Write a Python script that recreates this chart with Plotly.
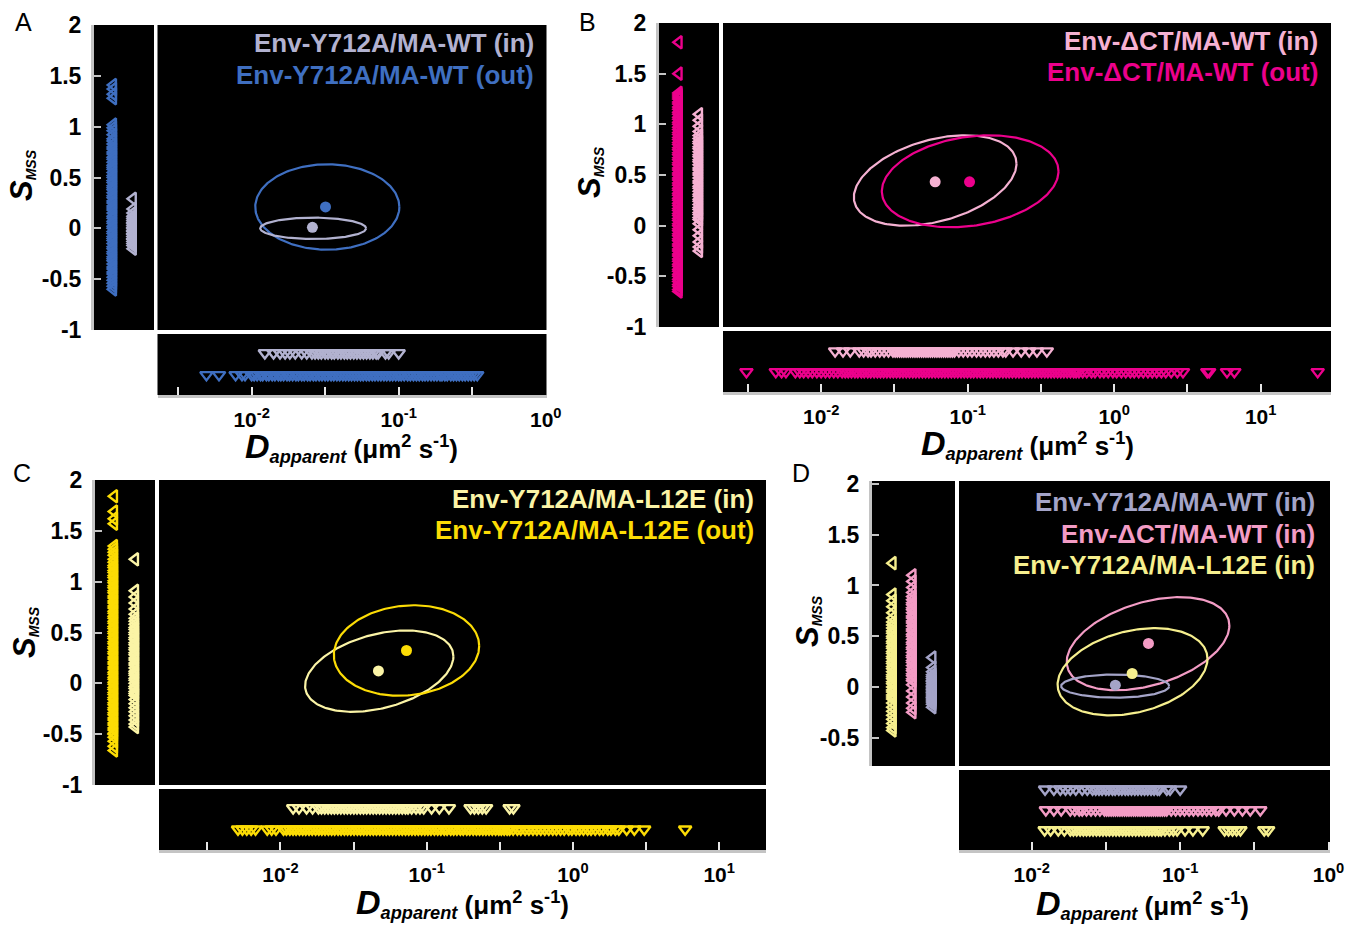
import numpy as np
import plotly.graph_objects as go

# ---------------- data ----------------
# S_MSS values (left marginal strips)
A_OUT_S = [1.41, 1.37, 1.32, 1.28, 1.02, 0.99, 0.96, 0.92,
           0.88, 0.86, 0.83, 0.80, 0.78, 0.75, 0.73, 0.70, 0.68, 0.65, 0.62, 0.60, 0.58, 0.55,
           0.52, 0.50, 0.47, 0.45, 0.42, 0.40, 0.38, 0.35, 0.32, 0.30, 0.27, 0.25, 0.22, 0.20,
           0.18, 0.15, 0.12, 0.10, 0.07, 0.05, 0.02, 0.00, -0.03, -0.05, -0.08, -0.10, -0.12,
           -0.15, -0.18, -0.20, -0.23, -0.25, -0.28, -0.30, -0.32, -0.35, -0.38, -0.40, -0.43,
           -0.45, -0.48, -0.51, -0.54, -0.57, -0.60]
A_IN_S = [0.29, 0.19, 0.15, 0.12, 0.10, 0.08, 0.06, 0.05, 0.03, 0.01, 0.00, -0.02, -0.03,
          -0.05, -0.06, -0.08, -0.10, -0.11, -0.13, -0.15, -0.17, -0.20]
B_OUT_S = [1.81, 1.50, 1.31, 1.29, 1.27, 1.25, 1.22, 1.20, 1.17, 1.15, 1.12, 1.10, 1.07, 1.05,
           1.02, 1.00, 0.97, 0.95, 0.92, 0.90, 0.87, 0.85, 0.82, 0.80, 0.77, 0.75, 0.72, 0.70,
           0.67, 0.65, 0.62, 0.60, 0.57, 0.55, 0.52, 0.50, 0.47, 0.45, 0.42, 0.40, 0.37, 0.35,
           0.32, 0.30, 0.27, 0.25, 0.22, 0.20, 0.17, 0.15, 0.12, 0.10, 0.07, 0.05, 0.02, 0.00,
           -0.03, -0.05, -0.08, -0.10, -0.13, -0.15, -0.18, -0.20, -0.23, -0.25, -0.28, -0.30,
           -0.33, -0.35, -0.38, -0.40, -0.43, -0.45, -0.48, -0.50, -0.53, -0.55, -0.58, -0.60,
           -0.63, -0.65]
B_IN_S = [1.10, 1.04, 0.98, 0.93, 0.89, 0.86, 0.83, 0.81, 0.78, 0.76, 0.73, 0.70, 0.68, 0.65,
          0.63, 0.60, 0.57, 0.55, 0.52, 0.50, 0.47, 0.44, 0.42, 0.39, 0.37, 0.34, 0.31, 0.29,
          0.26, 0.24, 0.21, 0.18, 0.16, 0.13, 0.11, 0.08, 0.06, 0.02, -0.04, -0.10, -0.16,
          -0.21, -0.25]
C_OUT_S = [1.84, 1.69, 1.62, 1.57, 1.35, 1.32, 1.29, 1.26, 1.22, 1.19, 1.16, 1.14, 1.11, 1.09,
           1.06, 1.04, 1.01, 0.99, 0.96, 0.94, 0.91, 0.89, 0.86, 0.84, 0.81, 0.79, 0.76, 0.74,
           0.71, 0.69, 0.66, 0.64, 0.61, 0.59, 0.56, 0.54, 0.51, 0.49, 0.46, 0.44, 0.41, 0.39,
           0.36, 0.34, 0.31, 0.29, 0.26, 0.24, 0.21, 0.19, 0.16, 0.14, 0.11, 0.09, 0.06, 0.04,
           0.01, -0.01, -0.04, -0.06, -0.09, -0.11, -0.14, -0.16, -0.19, -0.21, -0.24, -0.26,
           -0.29, -0.31, -0.34, -0.36, -0.39, -0.41, -0.44, -0.46, -0.49, -0.50, -0.53, -0.57,
           -0.62, -0.66]
C_IN_S = [1.22, 0.91, 0.85, 0.79, 0.73, 0.68, 0.64, 0.61, 0.58, 0.55, 0.53, 0.50, 0.48, 0.45,
          0.43, 0.40, 0.38, 0.35, 0.33, 0.30, 0.28, 0.25, 0.23, 0.20, 0.18, 0.15, 0.12, 0.10,
          0.08, 0.05, 0.03, 0.00, -0.03, -0.05, -0.08, -0.10, -0.12, -0.16, -0.20, -0.24,
          -0.28, -0.32, -0.36, -0.40, -0.43]

# D_apparent values, um^2/s (bottom marginal strips)
A_OUT_D = [0.00493, 0.00600, 0.00778, 0.00860, 0.00902,
           0.0100, 0.0104, 0.0109, 0.0115, 0.0119, 0.0126, 0.0131, 0.0138, 0.0144, 0.0152,
           0.0158, 0.0165, 0.0174, 0.0181, 0.0190, 0.0200, 0.0208, 0.0219, 0.0228, 0.0240,
           0.0250, 0.0263, 0.0274, 0.0288, 0.0301, 0.0316, 0.0330, 0.0347, 0.0362, 0.0380,
           0.0397, 0.0417, 0.0436, 0.0457, 0.0478, 0.0501, 0.0524, 0.0550, 0.0574, 0.0603,
           0.0630, 0.0661, 0.0690, 0.0724, 0.0757, 0.0794, 0.0830, 0.0871, 0.0910, 0.0955,
           0.100, 0.104, 0.109, 0.115, 0.120, 0.126, 0.132, 0.138, 0.145, 0.151, 0.158, 0.166,
           0.174, 0.182, 0.191, 0.197,
           0.206, 0.214, 0.226, 0.236, 0.247, 0.258, 0.271, 0.283, 0.297, 0.311, 0.326, 0.342]
A_IN_D = [0.0123, 0.0141, 0.0156, 0.0169, 0.0182, 0.0198, 0.0219, 0.0237, 0.0257, 0.0270,
          0.0284, 0.0298, 0.0316, 0.0331, 0.0350, 0.0365, 0.0386, 0.0405, 0.0427, 0.0447,
          0.0470, 0.0495, 0.0520, 0.0548, 0.0576, 0.0605, 0.0637, 0.0668, 0.0703, 0.0725,
          0.0813, 0.0855, 0.100]
B_OUT_D = [0.00309, 0.00490, 0.00537, 0.00575,
           0.00667, 0.00715, 0.00760, 0.00815, 0.00870, 0.00935, 0.0100, 0.0107, 0.0114,
           0.0122, 0.0130,
           0.0139, 0.0146, 0.0153, 0.0161, 0.0170, 0.0178, 0.0188, 0.0197, 0.0208, 0.0218,
           0.0230, 0.0242, 0.0254, 0.0267, 0.0281, 0.0296, 0.0311, 0.0327, 0.0344, 0.0362,
           0.0381, 0.0401, 0.0422, 0.0443, 0.0466, 0.0491, 0.0516, 0.0543, 0.0571, 0.0601,
           0.0632, 0.0665, 0.0699, 0.0736, 0.0774, 0.0814, 0.0856, 0.0901, 0.0948, 0.0997,
           0.105, 0.110, 0.116, 0.122, 0.128, 0.135, 0.142, 0.149, 0.157, 0.165, 0.174, 0.183,
           0.192, 0.202, 0.213, 0.224, 0.235, 0.248, 0.260, 0.274, 0.288, 0.303, 0.319, 0.336,
           0.353, 0.371, 0.390, 0.411, 0.432, 0.454, 0.478, 0.503, 0.529, 0.550,
           0.575, 0.61, 0.65, 0.70, 0.74, 0.80, 0.85, 0.91, 0.98, 1.04, 1.12, 1.20, 1.29,
           1.37, 1.47, 1.58, 1.70, 1.82, 1.95, 2.10, 2.25, 2.45, 2.70, 2.95,
           4.32, 4.45, 5.89, 6.61, 24.5]
B_IN_D = [0.01245, 0.0141, 0.0158, 0.0182, 0.0195, 0.0209,
          0.0219, 0.0234, 0.0251, 0.0269, 0.0288, 0.0309, 0.0320, 0.0331, 0.0343, 0.0355,
          0.0367, 0.0380, 0.0393, 0.0407, 0.0422, 0.0437, 0.0452, 0.0468, 0.0485, 0.0501,
          0.0519, 0.0537, 0.0556, 0.0575, 0.0596, 0.0617, 0.0639, 0.0661, 0.0684, 0.0708,
          0.0733, 0.0759, 0.0786, 0.0813, 0.0871, 0.0933, 0.100, 0.107, 0.115, 0.123,
          0.132, 0.141, 0.151, 0.162, 0.174, 0.182,
          0.204, 0.232, 0.263, 0.297, 0.347]
C_OUT_D = [0.00513, 0.00550, 0.00589, 0.00631, 0.00676, 0.00813, 0.00871, 0.00933,
           0.0105, 0.0110, 0.0116, 0.0122, 0.0128, 0.0135, 0.0142, 0.0149, 0.0157, 0.0165,
           0.0174, 0.0183, 0.0192, 0.0202, 0.0213, 0.0224, 0.0235, 0.0248, 0.0260, 0.0274,
           0.0288, 0.0303, 0.0319, 0.0336, 0.0353, 0.0371, 0.0390, 0.0411, 0.0432, 0.0454,
           0.0478, 0.0503, 0.0529, 0.0556, 0.0585, 0.0616, 0.0648, 0.0681, 0.0717, 0.0754,
           0.0793, 0.0834, 0.0877, 0.0923, 0.0971, 0.102, 0.107, 0.113, 0.119, 0.125, 0.132,
           0.138, 0.146, 0.153, 0.161, 0.170, 0.178, 0.188, 0.197, 0.208, 0.219, 0.230, 0.242,
           0.254, 0.267, 0.281, 0.296, 0.311, 0.324,
           0.339, 0.355, 0.369, 0.390, 0.417, 0.440, 0.471, 0.500, 0.533, 0.567, 0.603, 0.642,
           0.684, 0.728, 0.771, 0.822, 0.872, 0.935, 0.984, 1.05, 1.11, 1.18, 1.26, 1.33, 1.42,
           1.52, 1.61, 1.73, 1.82, 1.95, 2.06, 2.33, 2.63, 3.07,
           5.85]
C_IN_D = [0.01222, 0.0134, 0.0151, 0.0166,
          0.0182, 0.0191, 0.0201, 0.0212, 0.0223, 0.0234, 0.0246, 0.0259, 0.0273, 0.0287,
          0.0302, 0.0318, 0.0334, 0.0352, 0.0370, 0.0389, 0.0410, 0.0431, 0.0453, 0.0477,
          0.0502, 0.0528, 0.0556, 0.0585, 0.0615, 0.0647, 0.0681, 0.0716, 0.0746,
          0.0790, 0.0846, 0.0900, 0.0955, 0.108, 0.122, 0.142,
          0.1995, 0.212, 0.2255, 0.240, 0.255, 0.369, 0.392]

# mean points [D, S_MSS]
A_OUT_MEAN = [0.0318, 0.21]
A_IN_MEAN = [0.0259, 0.01]
B_IN_MEAN = [0.0600, 0.433]
B_OUT_MEAN = [0.103, 0.433]
C_IN_MEAN = [0.0468, 0.122]
C_OUT_MEAN = [0.0728, 0.323]
DA_MEAN = [0.0366, 0.017]
DB_MEAN = [0.0612, 0.429]
DC_MEAN = [0.0475, 0.132]

# ellipses [centre D, centre S, half-width (decades), half-height, tilt phase]
A_OUT_ELL = [0.0327, 0.21, 0.49, 0.42, 0.0]
A_IN_ELL = [0.0262, 0.00, 0.36, 0.105, 0.0]
B_IN_ELL = [0.0600, 0.446, 0.555, 0.446, 0.38]
B_OUT_ELL = [0.104, 0.438, 0.603, 0.454, 0.22]
C_IN_ELL = [0.0474, 0.12, 0.507, 0.40, 0.37]
C_OUT_ELL = [0.0728, 0.323, 0.497, 0.445, 0.10]
DA_ELL = [0.0365, 0.008, 0.364, 0.114, 0.0]
DB_ELL = [0.0608, 0.426, 0.548, 0.459, 0.40]
DC_ELL = [0.0478, 0.149, 0.505, 0.43, 0.30]

LEG_A = ["Env-Y712A/MA-WT (in)", "Env-Y712A/MA-WT (out)"]
LEG_B = ["Env-ΔCT/MA-WT (in)", "Env-ΔCT/MA-WT (out)"]
LEG_C = ["Env-Y712A/MA-L12E (in)", "Env-Y712A/MA-L12E (out)"]
LEG_D = ["Env-Y712A/MA-WT (in)", "Env-ΔCT/MA-WT (in)", "Env-Y712A/MA-L12E (in)"]

S_TICKS = [-1, -0.5, 0, 0.5, 1, 1.5, 2]
S_TICKS_D = [-0.5, 0, 0.5, 1, 1.5, 2]
D_EXP = [-2, -1, 0, 1]
D_MINOR_EXP = [-2.5, -1.5, -0.5, 0.5]

# ---------------- style ----------------
A_IN_C, A_OUT_C = "#b2b2d0", "#3f6fc1"
B_IN_C, B_OUT_C = "#f5b1d2", "#ec008c"
C_IN_C, C_OUT_C = "#fbf4a6", "#fcdc05"
DA_C, DB_C, DC_C = "#a4a4c8", "#f39cc5", "#f6ef8e"

W, H = 1355, 925
FONT = "Liberation Sans, Arial, sans-serif"
GREY = "#c4c4c4"
TICKW = "#e6e6e6"


def fx(px):
    return px / W


def fy(py):
    return 1 - py / H


fig = go.Figure()
layout = {}


def aname(n, a):
    return f"{a}axis" if n == 1 else f"{a}axis{n}"


def aref(n, a):
    return a if n == 1 else f"{a}{n}"


def panel(i, geo):
    nm, nl, nb = 3 * i + 1, 3 * i + 2, 3 * i + 3
    xl0, xl1 = geo["left"]
    xm0, xm1 = geo["main"]
    yt, yb = geo["top"], geo["bottom"]
    ys0, ys1 = geo["strip"]
    xr, yr, st = geo["xr"], geo["yr"], geo["sticks"]
    # main
    layout[aname(nm, "x")] = dict(domain=[fx(xm0), fx(xm1)], anchor=aref(nm, "y"), type="log",
                                 range=list(xr), visible=False)
    layout[aname(nm, "y")] = dict(domain=[fy(yb), fy(yt)], anchor=aref(nm, "x"), range=list(yr),
                                 visible=False)
    # left strip
    layout[aname(nl, "x")] = dict(domain=[fx(xl0), fx(xl1)], anchor=aref(nl, "y"), range=[0, 1],
                                 visible=False)
    layout[aname(nl, "y")] = dict(domain=[fy(yb), fy(yt)], anchor=aref(nl, "x"), range=list(yr),
                                 showgrid=False, zeroline=False, showline=True, linecolor=GREY,
                                 linewidth=3, ticks="inside", ticklen=7, tickwidth=2,
                                 tickcolor=GREY, tickmode="array", tickvals=st,
                                 ticktext=[f"<b>{v:g}</b>" for v in st],
                                 tickfont=dict(family=FONT, size=geo["yts"], color="black",
                                               weight="bold"),
                                 ticklabelstandoff=5)
    # bottom strip
    tv = [10 ** e for e in D_EXP if xr[0] <= e <= xr[1] + 1e-6]
    tt = [f"<b>10<sup>{e}</sup></b>" for e in D_EXP if xr[0] <= e <= xr[1] + 1e-6]
    mv = [10 ** e for e in D_MINOR_EXP if xr[0] <= e <= xr[1]]
    layout[aname(nb, "x")] = dict(domain=[fx(xm0), fx(xm1)], anchor=aref(nb, "y"), type="log",
                                 range=list(xr), showgrid=False, zeroline=False, showline=True,
                                 linecolor=GREY, linewidth=3, ticks="inside", ticklen=8,
                                 tickwidth=2, tickcolor=TICKW, tickmode="array",
                                 tickvals=tv, ticktext=tt,
                                 tickfont=dict(family=FONT, size=geo["xts"], color="black",
                                               weight="bold"),
                                 ticklabelstandoff=4,
                                 minor=dict(tickmode="array", tickvals=mv, ticks="inside",
                                            ticklen=8, tickwidth=2, tickcolor=TICKW,
                                            showgrid=False))
    layout[aname(nb, "y")] = dict(domain=[fy(ys1), fy(ys0)], anchor=aref(nb, "x"), range=[0, 1],
                                 visible=False)
    return nm, nl, nb


TRI = 11
TRIW = 2.4


def strip_left(n, svals, xpos, color):
    fig.add_trace(go.Scatter(x=[xpos] * len(svals), y=svals, mode="markers",
                             xaxis=aref(n, "x"), yaxis=aref(n, "y"), showlegend=False,
                             marker=dict(symbol="triangle-left-open", size=TRI, color=color,
                                         line=dict(width=TRIW, color=color))))


def strip_bottom(n, dvals, ypos, color):
    fig.add_trace(go.Scatter(x=dvals, y=[ypos] * len(dvals), mode="markers",
                             xaxis=aref(n, "x"), yaxis=aref(n, "y"), showlegend=False,
                             marker=dict(symbol="triangle-down-open", size=TRI, color=color,
                                         line=dict(width=TRIW, color=color))))


def ellipse(n, ell, color):
    cx, cy, ax, ay, ph = ell
    t = np.linspace(0, 2 * np.pi, 240)
    xs = 10 ** (np.log10(cx) + ax * np.cos(t))
    ys = cy + ay * np.sin(t + ph)
    fig.add_trace(go.Scatter(x=xs, y=ys, mode="lines", line=dict(color=color, width=2.2),
                             xaxis=aref(n, "x"), yaxis=aref(n, "y"), showlegend=False,
                             hoverinfo="skip"))


def mean_pt(n, m, color):
    fig.add_trace(go.Scatter(x=[m[0]], y=[m[1]], mode="markers",
                             marker=dict(symbol="circle", size=11, color=color),
                             xaxis=aref(n, "x"), yaxis=aref(n, "y"), showlegend=False))


annotations = []


def text(x, y, s, size, color="black", xanchor="center", angle=0):
    annotations.append(dict(x=fx(x), y=fy(y), xref="paper", yref="paper", text=s,
                            showarrow=False, xanchor=xanchor, yanchor="middle",
                            textangle=angle, font=dict(family=FONT, size=size, color=color)))


STITLE = '<i><b><span style="font-size:31px">S</span></b></i><sub><i><b>MSS</b></i></sub>'
DTITLE = ('<i><b><span style="font-size:34px">D</span></b></i><sub><i><b>apparent</b></i></sub>'
          '<b> (μm<sup>2</sup> s<sup>-1</sup>)</b>')

GEO = [
    dict(left=(94, 154), main=(157.5, 546.5), top=25, bottom=330, strip=(334, 395),
         xr=(-2.64, 0.005), yr=(-1, 2), sticks=S_TICKS, yts=23, xts=21),
    dict(left=(659, 719), main=(723, 1331), top=23, bottom=327, strip=(331, 392),
         xr=(-2.67, 1.48), yr=(-1, 2), sticks=S_TICKS, yts=23, xts=21),
    dict(left=(95, 155), main=(159, 766), top=480, bottom=785, strip=(789, 850),
         xr=(-2.83, 1.32), yr=(-1, 2), sticks=S_TICKS, yts=23, xts=21),
    dict(left=(872, 955), main=(959, 1330), top=481, bottom=766, strip=(770, 850),
         xr=(-2.49, 0.01), yr=(-0.78, 2.03), sticks=S_TICKS_D, yts=23, xts=21),
]

LEGS = 26

# ---- panel A ----
m, l, b = panel(0, GEO[0])
strip_left(l, A_OUT_S, 0.32, A_OUT_C)
strip_left(l, A_IN_S, 0.65, A_IN_C)
strip_bottom(b, A_IN_D, 0.69, A_IN_C)
strip_bottom(b, A_OUT_D, 0.33, A_OUT_C)
ellipse(m, A_OUT_ELL, A_OUT_C)
ellipse(m, A_IN_ELL, A_IN_C)
mean_pt(m, A_OUT_MEAN, A_OUT_C)
mean_pt(m, A_IN_MEAN, A_IN_C)
text(536, 43, f"<b>{LEG_A[0]}</b>", LEGS, A_IN_C, "right")
text(536, 75, f"<b>{LEG_A[1]}</b>", LEGS, A_OUT_C, "right")
text(23, 22, "A", 25)
text(21, 175, STITLE, 20, angle=-90)
text(351, 447, DTITLE, 26)

# ---- panel B ----
m, l, b = panel(1, GEO[1])
strip_left(l, B_OUT_S, 0.33, B_OUT_C)
strip_left(l, B_IN_S, 0.67, B_IN_C)
strip_bottom(b, B_IN_D, 0.67, B_IN_C)
strip_bottom(b, B_OUT_D, 0.33, B_OUT_C)
ellipse(m, B_IN_ELL, B_IN_C)
ellipse(m, B_OUT_ELL, B_OUT_C)
mean_pt(m, B_IN_MEAN, B_IN_C)
mean_pt(m, B_OUT_MEAN, B_OUT_C)
text(1320, 41, f"<b>{LEG_B[0]}</b>", LEGS, B_IN_C, "right")
text(1320, 72, f"<b>{LEG_B[1]}</b>", LEGS, B_OUT_C, "right")
text(587, 22, "B", 25)
text(589, 172, STITLE, 20, angle=-90)
text(1027, 444, DTITLE, 26)

# ---- panel C ----
m, l, b = panel(2, GEO[2])
strip_left(l, C_OUT_S, 0.32, C_OUT_C)
strip_left(l, C_IN_S, 0.67, C_IN_C)
strip_bottom(b, C_IN_D, 0.69, C_IN_C)
strip_bottom(b, C_OUT_D, 0.34, C_OUT_C)
ellipse(m, C_IN_ELL, C_IN_C)
ellipse(m, C_OUT_ELL, C_OUT_C)
mean_pt(m, C_IN_MEAN, C_IN_C)
mean_pt(m, C_OUT_MEAN, C_OUT_C)
text(756, 499, f"<b>{LEG_C[0]}</b>", LEGS, C_IN_C, "right")
text(756, 530, f"<b>{LEG_C[1]}</b>", LEGS, C_OUT_C, "right")
text(22, 473, "C", 25)
text(24, 632, STITLE, 20, angle=-90)
text(462, 903, DTITLE, 26)

# ---- panel D ----
m, l, b = panel(3, GEO[3])
strip_left(l, C_IN_S, 0.25, DC_C)
strip_left(l, B_IN_S, 0.49, DB_C)
strip_left(l, A_IN_S, 0.73, DA_C)
strip_bottom(b, A_IN_D, 0.76, DA_C)
strip_bottom(b, B_IN_D, 0.50, DB_C)
strip_bottom(b, C_IN_D, 0.25, DC_C)
ellipse(m, DB_ELL, DB_C)
ellipse(m, DC_ELL, DC_C)
ellipse(m, DA_ELL, DA_C)
mean_pt(m, DB_MEAN, DB_C)
mean_pt(m, DC_MEAN, DC_C)
mean_pt(m, DA_MEAN, DA_C)
text(1317, 502, f"<b>{LEG_D[0]}</b>", LEGS, DA_C, "right")
text(1317, 534, f"<b>{LEG_D[1]}</b>", LEGS, DB_C, "right")
text(1317, 565, f"<b>{LEG_D[2]}</b>", LEGS, DC_C, "right")
text(801, 473, "D", 25)
text(807, 621, STITLE, 20, angle=-90)
text(1142, 904, DTITLE, 26)

fig.update_layout(width=W, height=H, margin=dict(l=0, r=0, t=0, b=0, autoexpand=False),
                  paper_bgcolor="white", plot_bgcolor="black", showlegend=False,
                  font=dict(family=FONT, color="black"), annotations=annotations, **layout)

fig.write_html("out.html", config={"displayModeBar": False},
               post_script="document.body.style.margin='0px';"
                           "document.body.style.overflow='hidden';")
